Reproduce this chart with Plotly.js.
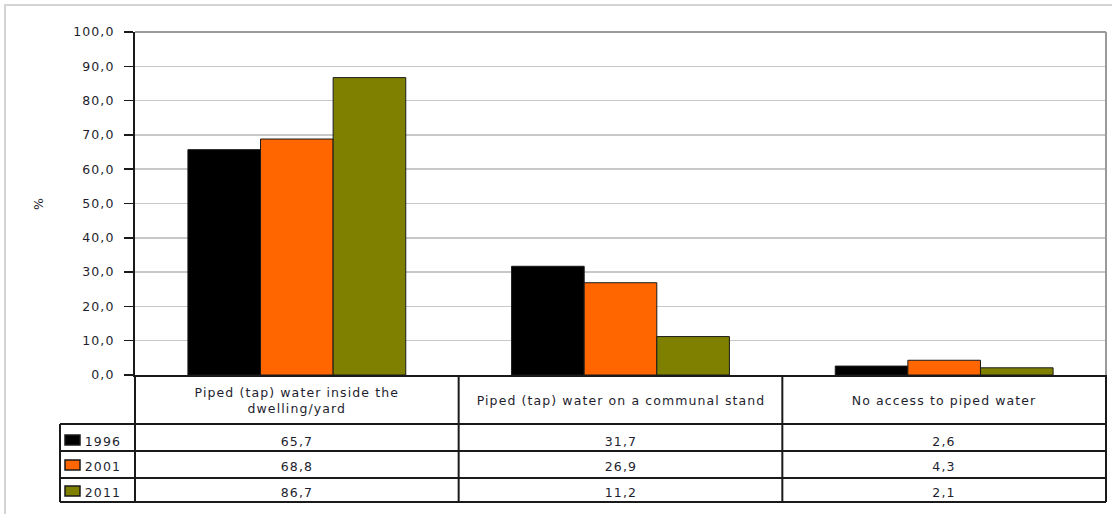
<!DOCTYPE html>
<html>
<head>
<meta charset="utf-8">
<script src="https://cdn.plot.ly/plotly-3.0.1.min.js"></script>
<style>
html,body{margin:0;padding:0;background:#fff;}
#chart svg text{letter-spacing:1.1px;}
</style>
</head>
<body>
<div id="chart" style="width:1112px;height:514px;"></div>
<script>
// ---- Data ----
const categories = ["Piped (tap) water inside the dwelling/yard", "Piped (tap) water on a communal stand", "No access to piped water"];
const headerLabels = ["Piped (tap) water inside the<br>dwelling/yard", "Piped (tap) water on a communal stand", "No access to piped water"];
const years = ["1996", "2001", "2011"];
const values1996 = [65.7, 31.7, 2.6];
const values2001 = [68.8, 26.9, 4.3];
const values2011 = [86.7, 11.2, 2.1];
const seriesValues = [values1996, values2001, values2011];
const seriesColors = ["#000000", "#FF6600", "#808000"];
const yTickValues = [0, 10, 20, 30, 40, 50, 60, 70, 80, 90, 100];

// ---- Geometry helpers (pixel -> paper) ----
const W = 1112, H = 514;
const L = 135, R = 1106, T = 32, B = 375;
const px = v => (v - L) / (R - L);
const py = v => (B - v) / (B - T);
const fmt = v => v.toFixed(1).replace('.', ',');

const FONT = "DejaVu Sans, Verdana, sans-serif";
const TXT = "#1e1e2e";
const FS = 12.5;

const traces = years.map((yr, i) => ({
  type: 'bar',
  name: yr,
  x: categories,
  y: seriesValues[i],
  marker: {color: seriesColors[i], line: {color: '#1a1a1a', width: 1}},
  hoverinfo: 'x+y+name'
}));

const shapes = [];
const annotations = [];
const lineCol = '#1a1a1a';
function hline(y, x0, x1, col, w) { shapes.push({type:'line', xref:'paper', yref:'paper', x0:px(x0), x1:px(x1), y0:py(y), y1:py(y), line:{color:col, width:w}}); }
function vline(x, y0, y1, col, w) { shapes.push({type:'line', xref:'paper', yref:'paper', x0:px(x), x1:px(x), y0:py(y0), y1:py(y1), line:{color:col, width:w}}); }

// outer frame (light gray)
hline(5, 4, 1112, '#d4d4d4', 2);
vline(5, 4, 514, '#d4d4d4', 2);
// plot area border top / right (gray)
hline(T, L, R, '#9a9a9a', 2);
vline(R, T, B, '#9a9a9a', 2);

// data table grid
const rowLines = [424, 451, 478, 502];
rowLines.forEach(y => hline(y, 60, R, lineCol, 2));
vline(60, 424, 502, lineCol, 2);
vline(L, B, 502, lineCol, 2);
vline(L + (R - L) / 3, B, 502, lineCol, 2);
vline(L + 2 * (R - L) / 3, B, 502, lineCol, 2);
vline(R, B, 502, lineCol, 2);

// header labels
headerLabels.forEach((t, i) => annotations.push({
  xref:'x', yref:'paper', x:i, y:py(401), text:t, showarrow:false,
  xanchor:'center', yanchor:'middle', align:'center',
  font:{family:FONT, size:FS, color:TXT}
}));

// row values + legend keys
const rowCenters = [441, 466, 492];
years.forEach((yr, r) => {
  seriesValues[r].forEach((v, i) => annotations.push({
    xref:'x', yref:'paper', x:i, y:py(rowCenters[r]), text:fmt(v), showarrow:false,
    xanchor:'center', yanchor:'middle', font:{family:FONT, size:FS, color:TXT}
  }));
  annotations.push({
    xref:'paper', yref:'paper', x:px(85), y:py(rowCenters[r]), text:yr, showarrow:false,
    xanchor:'left', yanchor:'middle', font:{family:FONT, size:FS, color:TXT}
  });
  const cy = rowCenters[r] - 1;
  shapes.push({type:'rect', xref:'paper', yref:'paper', x0:px(65), x1:px(80), y0:py(cy - 5), y1:py(cy + 5),
    fillcolor: seriesColors[r], line:{color:'#1a1a1a', width:1.5}});
});

const layout = {
  width: W, height: H,
  margin: {l: L, r: W - R, t: T, b: H - B, pad: 0},
  paper_bgcolor: '#ffffff', plot_bgcolor: '#ffffff',
  font: {family: FONT, size: FS, color: TXT},
  separators: ',.',
  barmode: 'group', bargap: 0.327, bargroupgap: 0,
  showlegend: false,
  xaxis: {
    type: 'category', showticklabels: false, ticks: '', showgrid: false,
    showline: true, linecolor: '#1a1a1a', linewidth: 2, zeroline: false, fixedrange: true
  },
  yaxis: {
    range: [0, 100], tickvals: yTickValues, tickformat: '.1f',
    ticks: 'outside', ticklen: 9, tickwidth: 1.5, tickcolor: '#1a1a1a',
    ticklabelstandoff: 7,
    showline: true, linecolor: '#1a1a1a', linewidth: 2,
    showgrid: true, gridcolor: '#c8c8c8', gridwidth: 1.5, zeroline: false,
    tickfont: {family: FONT, size: FS, color: TXT},
    title: {text: '%', font: {family: FONT, size: FS, color: TXT}, standoff: 32},
    automargin: false, fixedrange: true
  },
  shapes: shapes,
  annotations: annotations
};

Plotly.newPlot('chart', traces, layout, {displayModeBar: false, staticPlot: true});
</script>
</body>
</html>
